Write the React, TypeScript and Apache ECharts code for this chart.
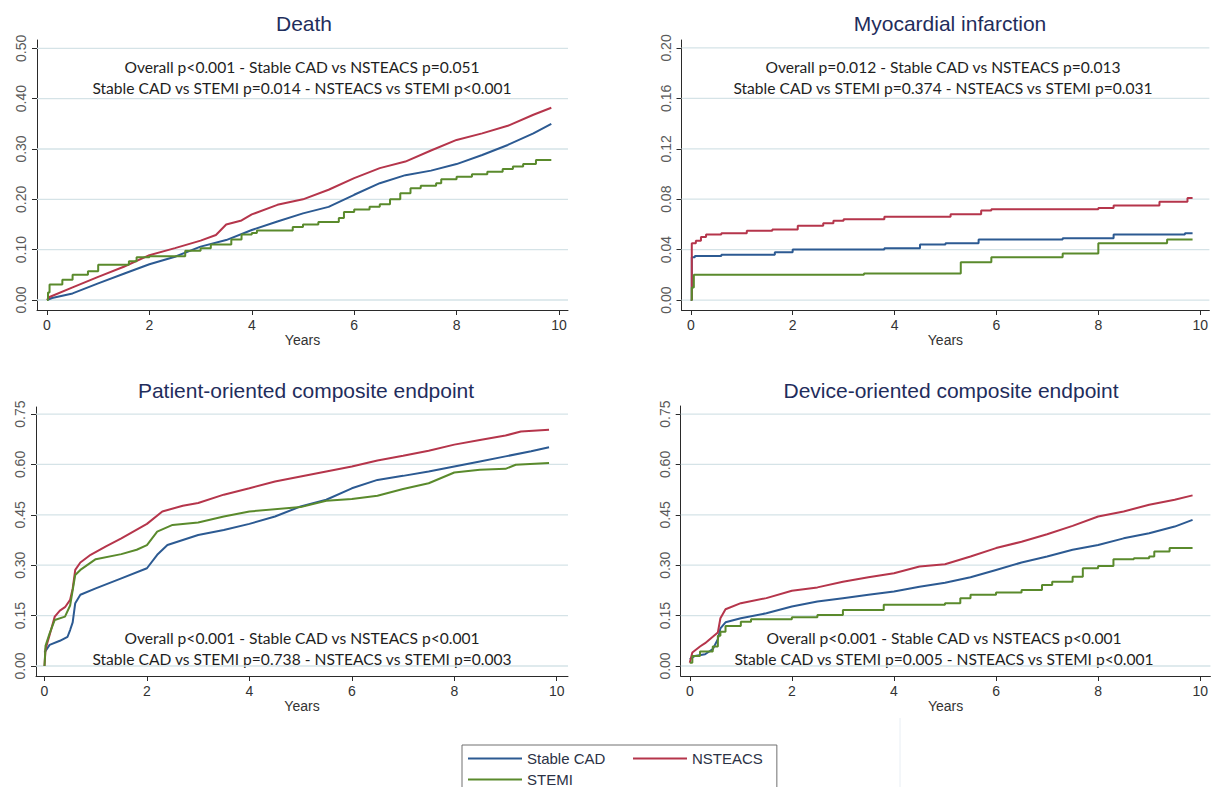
import React, { useEffect, useRef } from "react";
import * as echarts from "echarts";

// ---------- tick labels ----------
const xTicks = [0, 2, 4, 6, 8, 10];
const deathTicks = [0, 0.1, 0.2, 0.3, 0.4, 0.5];
const miTicks = [0, 0.04, 0.08, 0.12, 0.16, 0.2];
const compTicks = [0, 0.15, 0.3, 0.45, 0.6, 0.75];

// ---------- groups ----------
const groups = ["Stable CAD", "NSTEACS", "STEMI"];
const colors = ["#2c5a92", "#b5354b", "#5a8a2c"];

// ---------- panel titles and annotations ----------
const titles = [
  "Death",
  "Myocardial infarction",
  "Patient-oriented composite endpoint",
  "Device-oriented composite endpoint",
];
const notes = [
  ["Overall p<0.001 - Stable CAD vs NSTEACS p=0.051", "Stable CAD vs STEMI p=0.014 - NSTEACS vs STEMI p<0.001"],
  ["Overall p=0.012 - Stable CAD vs NSTEACS p=0.013", "Stable CAD vs STEMI p=0.374 - NSTEACS vs STEMI p=0.031"],
  ["Overall p<0.001 - Stable CAD vs NSTEACS p<0.001", "Stable CAD vs STEMI p=0.738 - NSTEACS vs STEMI p=0.003"],
  ["Overall p<0.001 - Stable CAD vs NSTEACS p<0.001", "Stable CAD vs STEMI p=0.005 - NSTEACS vs STEMI p<0.001"],
];

// ---------- data: [years, cumulative incidence] ----------
const deathStable = [
  [0, 0], [0.1, 0.004], [0.5, 0.013], [1, 0.033], [1.5, 0.052], [2, 0.071], [2.5, 0.086],
  [3, 0.106], [3.5, 0.119], [4, 0.139], [4.5, 0.156], [5, 0.172], [5.5, 0.185], [6, 0.209],
  [6.5, 0.232], [7, 0.248], [7.5, 0.257], [8, 0.27], [8.5, 0.288], [9, 0.308], [9.5, 0.331], [9.85, 0.35],
];
const deathNSTEACS = [
  [0, 0], [0.05, 0.006], [0.5, 0.025], [1, 0.046], [1.5, 0.066], [2, 0.089], [2.5, 0.103],
  [3, 0.118], [3.3, 0.129], [3.5, 0.15], [3.8, 0.158], [4, 0.17], [4.5, 0.189], [5, 0.2],
  [5.5, 0.219], [6, 0.242], [6.5, 0.262], [7, 0.275], [7.5, 0.297], [8, 0.318], [8.5, 0.331],
  [9, 0.346], [9.5, 0.368], [9.85, 0.382],
];
const deathSTEMI = [
  [0, 0], [0.02, 0.015], [0.05, 0.031], [0.3, 0.04], [0.5, 0.05], [0.8, 0.057], [1.0, 0.07],
  [1.6, 0.077], [1.75, 0.085], [2.0, 0.087], [2.7, 0.098], [3.0, 0.103], [3.2, 0.11], [3.6, 0.12],
  [3.8, 0.13], [4.0, 0.133], [4.1, 0.138], [4.8, 0.145], [5.0, 0.15], [5.3, 0.155], [5.7, 0.163],
  [5.8, 0.175], [6.0, 0.18], [6.3, 0.185], [6.5, 0.19], [6.7, 0.2], [6.9, 0.212], [7.1, 0.222],
  [7.3, 0.227], [7.6, 0.232], [7.7, 0.24], [8.0, 0.245], [8.3, 0.25], [8.6, 0.255], [8.9, 0.26],
  [9.1, 0.265], [9.3, 0.27], [9.55, 0.278], [9.85, 0.278],
];

const miStable = [
  [0, 0], [0.02, 0.034], [0.08, 0.035], [0.6, 0.036], [1.65, 0.038], [2.0, 0.04], [3.8, 0.041],
  [4.5, 0.044], [5.0, 0.045], [5.65, 0.048], [7.3, 0.049], [8.3, 0.052], [9.7, 0.053], [9.85, 0.053],
];
const miNSTEACS = [
  [0, 0], [0.02, 0.045], [0.1, 0.047], [0.2, 0.05], [0.3, 0.052], [0.6, 0.053], [1.1, 0.055],
  [1.6, 0.056], [2.1, 0.059], [2.6, 0.061], [2.8, 0.063], [3.0, 0.064], [3.8, 0.066], [5.1, 0.068],
  [5.7, 0.071], [5.9, 0.072], [8.0, 0.073], [8.3, 0.075], [9.2, 0.078], [9.75, 0.081], [9.85, 0.081],
];
const miSTEMI = [
  [0, 0], [0.02, 0.01], [0.06, 0.02], [3.4, 0.021], [5.3, 0.03], [5.9, 0.034], [7.3, 0.037],
  [8.0, 0.045], [9.35, 0.048], [9.85, 0.048],
];

const pocStable = [
  [0, 0.04], [0.1, 0.063], [0.3, 0.075], [0.45, 0.087], [0.5, 0.107], [0.55, 0.13], [0.6, 0.187],
  [0.7, 0.212], [1.0, 0.231], [1.5, 0.261], [2.0, 0.291], [2.2, 0.331], [2.4, 0.36], [3.0, 0.39],
  [3.5, 0.405], [4.0, 0.423], [4.5, 0.445], [5.0, 0.475], [5.5, 0.495], [6.0, 0.529], [6.5, 0.554],
  [7.0, 0.566], [7.5, 0.579], [8.0, 0.594], [8.5, 0.609], [9.0, 0.624], [9.5, 0.639], [9.85, 0.651],
];
const pocNSTEACS = [
  [0, 0], [0.02, 0.05], [0.1, 0.092], [0.2, 0.147], [0.3, 0.165], [0.4, 0.175], [0.5, 0.197],
  [0.55, 0.23], [0.6, 0.286], [0.7, 0.308], [0.9, 0.331], [1.2, 0.356], [1.5, 0.38], [2.0, 0.423],
  [2.3, 0.46], [2.7, 0.477], [3.0, 0.485], [3.5, 0.51], [4.0, 0.529], [4.5, 0.549], [5.0, 0.564],
  [5.5, 0.579], [6.0, 0.594], [6.5, 0.612], [7.0, 0.626], [7.5, 0.641], [8.0, 0.659], [8.5, 0.673],
  [9.0, 0.686], [9.3, 0.698], [9.85, 0.703],
];
const pocSTEMI = [
  [0, 0], [0.02, 0.06], [0.1, 0.097], [0.2, 0.137], [0.4, 0.147], [0.5, 0.18], [0.6, 0.271],
  [0.7, 0.286], [1.0, 0.318], [1.5, 0.333], [1.8, 0.346], [2.0, 0.36], [2.2, 0.4], [2.5, 0.42],
  [3.0, 0.427], [3.5, 0.445], [4.0, 0.46], [5.0, 0.473], [5.5, 0.492], [6.0, 0.497], [6.5, 0.507],
  [7.0, 0.527], [7.5, 0.544], [8.0, 0.576], [8.5, 0.584], [9.0, 0.587], [9.2, 0.599], [9.85, 0.604],
];

const docStable = [
  [0, 0.02], [0.1, 0.03], [0.3, 0.035], [0.45, 0.05], [0.55, 0.08], [0.6, 0.112], [0.7, 0.13],
  [1.0, 0.142], [1.5, 0.157], [2.0, 0.177], [2.5, 0.192], [3.0, 0.202], [3.5, 0.212], [4.0, 0.222],
  [4.5, 0.236], [5.0, 0.248], [5.5, 0.264], [6.0, 0.286], [6.5, 0.308], [7.0, 0.326], [7.5, 0.346],
  [8.0, 0.36], [8.5, 0.38], [9.0, 0.395], [9.5, 0.415], [9.85, 0.435],
];
const docNSTEACS = [
  [0, 0.01], [0.05, 0.04], [0.2, 0.058], [0.3, 0.068], [0.45, 0.087], [0.55, 0.1], [0.6, 0.142],
  [0.7, 0.169], [1.0, 0.187], [1.5, 0.202], [2.0, 0.224], [2.5, 0.234], [3.0, 0.251], [3.5, 0.264],
  [4.0, 0.276], [4.5, 0.296], [5.0, 0.303], [5.5, 0.326], [6.0, 0.351], [6.5, 0.37], [7.0, 0.392],
  [7.5, 0.417], [8.0, 0.445], [8.5, 0.46], [9.0, 0.48], [9.5, 0.495], [9.85, 0.508],
];
const docSTEMI = [
  [0, 0.01], [0.05, 0.03], [0.2, 0.043], [0.45, 0.058], [0.55, 0.09], [0.6, 0.102], [0.7, 0.119],
  [1.0, 0.132], [1.2, 0.139], [2.0, 0.145], [2.5, 0.152], [3.0, 0.167], [3.8, 0.182], [5.0, 0.187],
  [5.3, 0.202], [5.5, 0.212], [6.0, 0.219], [6.5, 0.226], [6.9, 0.241], [7.1, 0.251], [7.5, 0.266],
  [7.7, 0.291], [8.0, 0.298], [8.3, 0.318], [8.7, 0.321], [9.0, 0.326], [9.1, 0.341], [9.4, 0.351],
  [9.85, 0.351],
];

// ---------- layout (pixels) ----------
const panels = [
  { left: 37, top: 40, width: 531, height: 270, xMin: -0.195, xMax: 10.176, yMin: -0.0199, yMax: 0.5165,
    yTicks: deathTicks, data: [deathStable, deathNSTEACS, deathSTEMI], step: [false, false, true],
    titleX: 304, titleY: 23, noteX: 302, noteY: [67, 88] },
  { left: 681.5, top: 40, width: 531, height: 270, xMin: -0.182, xMax: 10.18, yMin: -0.0079, yMax: 0.2063,
    yTicks: miTicks, data: [miStable, miNSTEACS, miSTEMI], step: [true, true, true],
    titleX: 950, titleY: 23, noteX: 943, noteY: [67, 88] },
  { left: 36, top: 407, width: 532, height: 269, xMin: -0.166, xMax: 10.22, yMin: -0.0298, yMax: 0.771,
    yTicks: compTicks, data: [pocStable, pocNSTEACS, pocSTEMI], step: [false, false, false],
    titleX: 306, titleY: 390, noteX: 302, noteY: [638, 659] },
  { left: 680.7, top: 406, width: 532, height: 270, xMin: -0.178, xMax: 10.2, yMin: -0.0298, yMax: 0.774,
    yTicks: compTicks, data: [docStable, docNSTEACS, docSTEMI], step: [false, false, true],
    titleX: 951, titleY: 390, noteX: 944, noteY: [638, 659] },
];

const axisColor = "#2a2a2a";
const gridColor = "#d5e3e7";

function buildOption(): any {
  const grid: any[] = [];
  const xAxis: any[] = [];
  const yAxis: any[] = [];
  const series: any[] = [];
  const graphic: any[] = [];

  panels.forEach((p, i) => {
    grid.push({ left: p.left, top: p.top, width: p.width, height: p.height, containLabel: false });
    xAxis.push({
      type: "value", gridIndex: i, min: p.xMin, max: p.xMax,
      name: "Years", nameLocation: "middle", nameGap: 23,
      nameTextStyle: { fontSize: 14, color: "#333", fontFamily: "Liberation Sans, Arial, sans-serif" },
      axisLine: { show: true, onZero: false, lineStyle: { color: axisColor, width: 1 } },
      axisTick: { show: true, inside: false, length: 5, customValues: xTicks, lineStyle: { color: axisColor } },
      axisLabel: { customValues: xTicks, margin: 8, fontSize: 14, color: "#333",
        fontFamily: "Liberation Sans, Arial, sans-serif", formatter: (v: number) => String(Math.round(v)) },
      splitLine: { show: false },
    });
    yAxis.push({
      type: "value", gridIndex: i, min: p.yMin, max: p.yMax,
      axisLine: { show: true, onZero: false, lineStyle: { color: axisColor, width: 1 } },
      axisTick: { show: true, inside: false, length: 5, customValues: p.yTicks, lineStyle: { color: axisColor } },
      axisLabel: { customValues: p.yTicks, rotate: 90, margin: 9, fontSize: 14, color: "#5a5a5a",
        fontFamily: "Liberation Sans, Arial, sans-serif", formatter: (v: number) => v.toFixed(2) },
      splitLine: { show: false },
    });
    // horizontal gridlines at the y ticks (custom series through the axes' scales)
    series.push({
      type: "custom", xAxisIndex: i, yAxisIndex: i, silent: true, z: 1, clip: false,
      data: p.yTicks.map((v) => [0, v]),
      encode: { x: 0, y: 1 },
      renderItem: (params: any, api: any) => {
        const v = api.value(1);
        const a = api.coord([p.xMin, v]);
        const b = api.coord([p.xMax, v]);
        return {
          type: "line",
          shape: { x1: a[0], y1: a[1], x2: b[0], y2: b[1] },
          style: { stroke: gridColor, lineWidth: 1.3, fill: null },
        };
      },
    });
    p.data.forEach((d, k) => {
      series.push({
        type: "line", name: groups[k], xAxisIndex: i, yAxisIndex: i, data: d,
        step: p.step[k] ? "end" : false, symbol: "none", showSymbol: false, z: 3,
        lineStyle: { color: colors[k], width: 2 }, itemStyle: { color: colors[k] },
        silent: true,
      });
    });
    graphic.push({
      type: "text", x: p.titleX, y: p.titleY,
      style: { text: titles[i], fill: "#1f2d5c", fontSize: 21, fontFamily: "Liberation Sans, Arial, sans-serif",
        textAlign: "center", textVerticalAlign: "middle", align: "center", verticalAlign: "middle" },
    });
    notes[i].forEach((line, j) => {
      graphic.push({
        type: "text", x: p.noteX, y: p.noteY[j],
        style: { text: line, fill: "#1e1e1e", fontSize: 15.6, fontFamily: "Lato, sans-serif",
          textAlign: "center", textVerticalAlign: "middle", align: "center", verticalAlign: "middle" },
      });
    });
  });

  graphic.push({
    type: "line", shape: { x1: 900, y1: 718, x2: 900, y2: 787 },
    style: { stroke: "#e8eef4", lineWidth: 1 }, silent: true,
  });

  return {
    animation: false,
    backgroundColor: "#ffffff",
    grid, xAxis, yAxis, series, graphic,
    legend: {
      left: 462, top: 745, orient: "horizontal", width: 300,
      padding: [6, 14, 6, 6], itemGap: 6, itemWidth: 54, itemHeight: 2, icon: "rect",
      borderColor: "#707070", borderWidth: 1, backgroundColor: "#ffffff",
      textStyle: { fontSize: 15, color: "#2b3245", lineHeight: 15, fontFamily: "Liberation Sans, Arial, sans-serif" },
      data: [
        { name: groups[0], textStyle: { width: 100 } },
        { name: groups[1] },
        { name: groups[2] },
      ],
      selectedMode: false,
    },
  };
}

export default function App() {
  const ref = useRef<HTMLDivElement>(null);
  useEffect(() => {
    document.body.style.margin = "0";
    const chart = echarts.init(ref.current!, null, { renderer: "svg" });
    chart.setOption(buildOption());
    return () => chart.dispose();
  }, []);
  return <div ref={ref} style={{ width: 1211, height: 787 }} />;
}
